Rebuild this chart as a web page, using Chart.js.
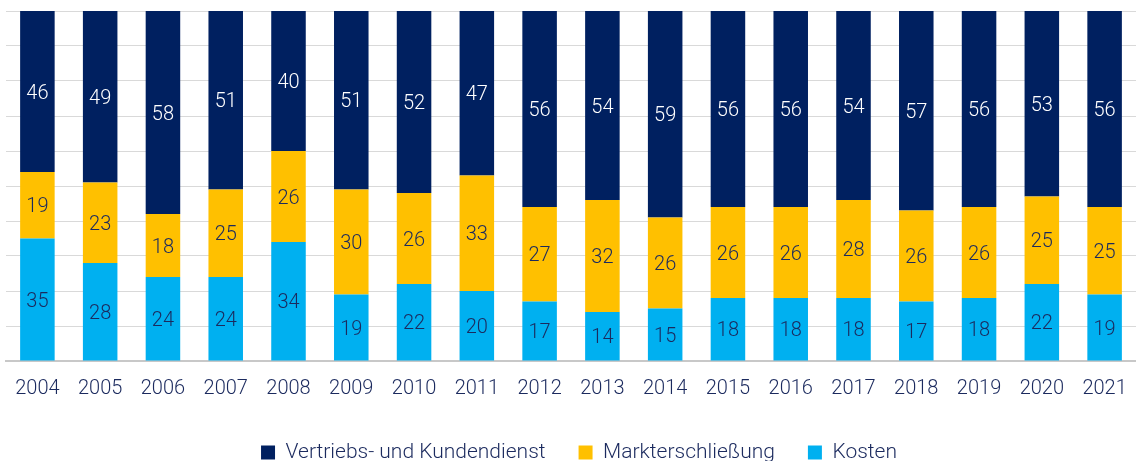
<!DOCTYPE html>
<html>
<head>
<meta charset="utf-8">
<script src="https://cdn.jsdelivr.net/npm/chart.js@4.4.0/dist/chart.umd.min.js"></script>
<style>
  html, body { margin: 0; padding: 0; background: #fff; }
  #box { width: 1136px; height: 461px; }
</style>
</head>
<body>
<div id="box"><canvas id="grafico"></canvas></div>
<script>
const jahre = ['2004', '2005', '2006', '2007', '2008', '2009', '2010', '2011', '2012',
  '2013', '2014', '2015', '2016', '2017', '2018', '2019', '2020', '2021'];
const kosten = [35, 28, 24, 24, 34, 19, 22, 20, 17, 14, 15, 18, 18, 18, 17, 18, 22, 19];
const markt = [19, 23, 18, 25, 26, 30, 26, 33, 27, 32, 26, 26, 26, 28, 26, 26, 25, 25];
const vertrieb = [46, 49, 58, 51, 40, 51, 52, 47, 56, 54, 59, 56, 56, 54, 57, 56, 53, 56];

const schrift = "Roboto, 'Liberation Sans', sans-serif";
const textFarbe = '#1b2a5e';

// Werte mittig in die Segmente schreiben
const werteLabels = {
  id: 'werteLabels',
  afterDatasetsDraw(chart) {
    const ctx = chart.ctx;
    ctx.save();
    ctx.font = '300 20px ' + schrift;
    ctx.textAlign = 'center';
    ctx.textBaseline = 'middle';
    chart.data.datasets.forEach((ds, i) => {
      const meta = chart.getDatasetMeta(i);
      meta.data.forEach((bar, j) => {
        const mitte = (bar.y + bar.base) / 2;
        ctx.fillStyle = ds.labelFarbe;
        ctx.fillText(ds.data[j], bar.x, mitte + 2);
      });
    });
    ctx.restore();
  }
};

// Legende ein Stück nach rechts schieben
const legendeVersatz = {
  id: 'legendeVersatz',
  beforeInit(chart) {
    const zeichnen = chart.legend.draw;
    chart.legend.draw = function () {
      chart.ctx.save();
      chart.ctx.translate(8, 0);
      zeichnen.call(this);
      chart.ctx.restore();
    };
  }
};

new Chart(document.getElementById('grafico'), {
  type: 'bar',
  data: {
    labels: jahre,
    datasets: [
      { label: 'Kosten', data: kosten, backgroundColor: '#00b0f0', labelFarbe: textFarbe },
      { label: 'Markterschließung', data: markt, backgroundColor: '#ffc000', labelFarbe: textFarbe },
      { label: 'Vertriebs- und Kundendienst', data: vertrieb, backgroundColor: '#002060', labelFarbe: '#ffffff' }
    ]
  },
  options: {
    responsive: true,
    maintainAspectRatio: false,
    animation: false,
    layout: { padding: { left: 6, right: 0, top: 11, bottom: -12 } },
    datasets: { bar: { barPercentage: 0.55, categoryPercentage: 1 } },
    scales: {
      x: {
        stacked: true,
        grid: { display: false },
        border: { color: '#c8c8c8', width: 2 },
        ticks: { color: textFarbe, font: { family: schrift, size: 20, weight: '300', lineHeight: 1.5 }, padding: 5 }
      },
      y: {
        stacked: true,
        min: 0,
        max: 100,
        ticks: { display: false, stepSize: 10 },
        grid: { color: '#d9d9d9', drawTicks: false },
        border: { display: false }
      }
    },
    plugins: {
      tooltip: { enabled: false },
      legend: {
        position: 'bottom',
        reverse: true,
        labels: {
          color: textFarbe,
          font: { family: schrift, size: 21, weight: '300' },
          boxWidth: 14,
          boxHeight: 14,
          padding: 33
        }
      }
    }
  },
  plugins: [werteLabels, legendeVersatz]
});
</script>
</body>
</html>
